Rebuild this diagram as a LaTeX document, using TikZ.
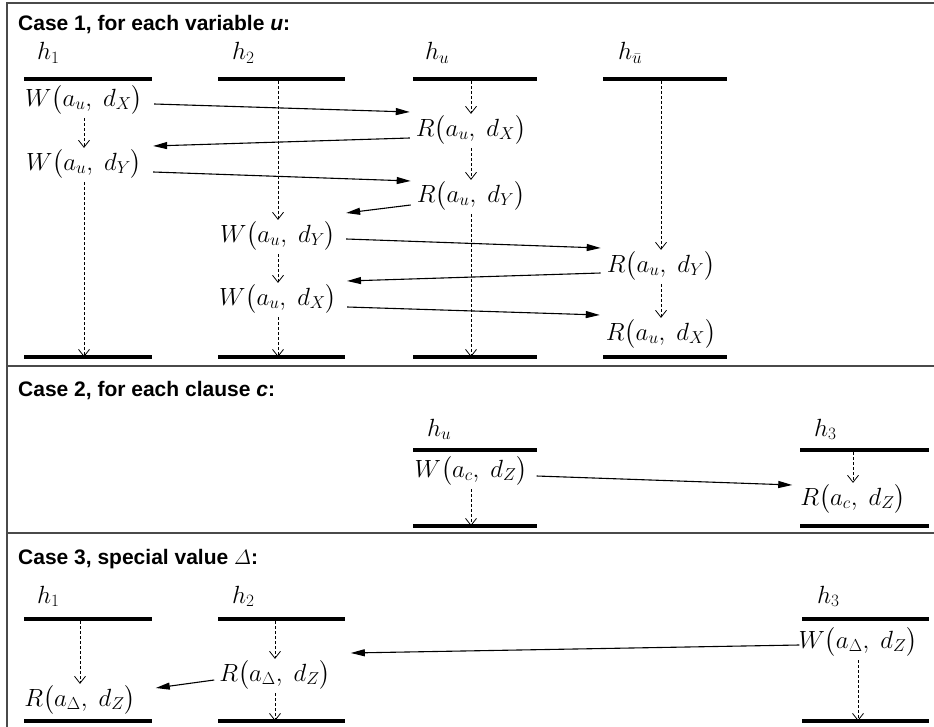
\documentclass[tikz,border=0pt]{standalone}
\usepackage{amsmath,amssymb}
\usepackage{fontspec}
\setsansfont{Liberation Sans}
\usepackage{tikz}
\usetikzlibrary{arrows.meta,positioning,calc}
\definecolor{frameline}{HTML}{4A4A4A}

\begin{document}
\begin{tikzpicture}[x=1pt, y=-1pt,
  lane/.style={line width=3.4pt},
  sepline/.style={frameline, line width=1.8pt},
  op/.style={font=\fontsize{24}{26}\selectfont, inner sep=1pt},
  tag/.style={font=\fontsize{23}{25}\selectfont, anchor=base west, inner sep=0pt},
  casetitle/.style={font=\sffamily\bfseries\fontsize{21}{24}\selectfont, anchor=base west, inner sep=0pt},
  flow/.style={dash pattern=on 3pt off 2pt, line width=0.8pt,
    -{Straight Barb[length=7pt,width=11pt]}, shorten <=2pt},
  msg/.style={line width=1.1pt, -{Triangle[length=14pt,width=7pt]}}]

\useasboundingbox (0,0) rectangle (934,727);

% ---------- frame
\draw[sepline] (7,727) -- (7,3) -- (934,3);
\draw[sepline] (7,366) -- (934,366);
\draw[sepline] (7,533) -- (934,533);

% ---------- case 1
\node[casetitle] (c1) at (18,31) {Case 1, for each variable \textit{u}:};
\node[tag] (l1) at (37,60)  {$h_1$};
\node[tag] (l2) at (232,60) {$h_2$};
\node[tag] (l3) at (425,60) {$h_u$};
\node[tag] (l4) at (618,60) {$h_{\bar u}$};
\foreach \a/\b in {24/152, 218/345, 413/537, 603/727}{
  \draw[lane] (\a,79) -- (\b,79);
  \draw[lane] (\a,357) -- (\b,357); }
\coordinate (b1) at (84,357);
\coordinate (t2) at (278,79);  \coordinate (b2) at (278,357);
\coordinate (t3) at (471,79);  \coordinate (b3) at (471,357);
\coordinate (t4) at (661,79);

\node[op] (w1x) at (84,100)  {$W\bigl(a_u,\;d_X\bigr)$};
\node[op] (w1y) at (84,164)  {$W\bigl(a_u,\;d_Y\bigr)$};
\node[op] (w2y) at (278,236) {$W\bigl(a_u,\;d_Y\bigr)$};
\node[op] (w2x) at (278,299) {$W\bigl(a_u,\;d_X\bigr)$};
\node[op] (r3x) at (471,130) {$R\bigl(a_u,\;d_X\bigr)$};
\node[op] (r3y) at (471,196) {$R\bigl(a_u,\;d_Y\bigr)$};
\node[op] (r4y) at (661,266) {$R\bigl(a_u,\;d_Y\bigr)$};
\node[op] (r4x) at (661,334) {$R\bigl(a_u,\;d_X\bigr)$};

\draw[flow] (w1x) -- (w1y);
\draw[flow] (w1y) -- (b1);
\draw[flow] (t2) -- (w2y);
\draw[flow] (w2y) -- (w2x);
\draw[flow] (w2x) -- (b2);
\draw[flow] (t3) -- (r3x);
\draw[flow] (r3x) -- (r3y);
\draw[flow] (r3y) -- (b3);
\draw[flow] (t4) -- (r4y);
\draw[flow] (r4y) -- (r4x);

\draw[msg] ([shift={(10,4)}]w1x.east) -- ([shift={(-5,-18)}]r3x.west);
\draw[msg] ([shift={(-5,8)}]r3x.west) -- ([shift={(10,-18)}]w1y.east);
\draw[msg] ([shift={(10,8)}]w1y.east) -- ([shift={(-5,-15)}]r3y.west);
\draw[msg] ([shift={(-5,9)}]r3y.west) -- ([shift={(9,-23)}]w2y.east);
\draw[msg] ([shift={(9,3)}]w2y.east) -- ([shift={(-5,-18)}]r4y.west);
\draw[msg] ([shift={(-5,7)}]r4y.west) -- ([shift={(9,-18)}]w2x.east);
\draw[msg] ([shift={(9,8)}]w2x.east) -- ([shift={(-5,-19)}]r4x.west);

% ---------- case 2
\node[casetitle] (c2) at (18,396) {Case 2, for each clause \textit{c}:};
\node[tag] (l5) at (427,436) {$h_u$};
\node[tag] (l6) at (814,436) {$h_3$};
\foreach \a/\b in {413/537, 800/929}{
  \draw[lane] (\a,450) -- (\b,450);
  \draw[lane] (\a,526) -- (\b,526); }
\coordinate (b5) at (471,526);
\coordinate (t6) at (853,450);

\node[op] (wc) at (471,471) {$W\bigl(a_c,\;d_Z\bigr)$};
\node[op] (rc) at (853,499) {$R\bigl(a_c,\;d_Z\bigr)$};
\draw[flow] (wc) -- (b5);
\draw[flow] (t6) -- (rc);
\draw[msg] ([shift={(8,5)}]wc.east) -- ([shift={(-7,-14)}]rc.west);

% ---------- case 3
\node[casetitle] (c3) at (18,564) {Case 3, special value $\varDelta$:};
\node[tag] (l7) at (37,603)  {$h_1$};
\node[tag] (l8) at (232,603) {$h_2$};
\node[tag] (l9) at (817,603) {$h_3$};
\foreach \a/\b in {24/152, 218/345, 802/929}{
  \draw[lane] (\a,619) -- (\b,619);
  \draw[lane] (\a,721) -- (\b,721); }
\coordinate (t7) at (80,619);
\coordinate (t8) at (275,619); \coordinate (b8) at (275,721);
\coordinate (b9) at (858,721);

\node[op] (rd1) at (80,700)  {$R\bigl(a_\Delta,\;d_Z\bigr)$};
\node[op] (rd2) at (275,675) {$R\bigl(a_\Delta,\;d_Z\bigr)$};
\node[op] (wd3) at (858,642) {$W\bigl(a_\Delta,\;d_Z\bigr)$};
\draw[flow] (t7) -- (rd1);
\draw[flow] (t8) -- (rd2);
\draw[flow] (rd2) -- (b8);
\draw[flow] (wd3) -- (b9);
\draw[msg] ([shift={(2,3)}]wd3.west) -- ([shift={(19,-22)}]rd2.east);
\draw[msg] ([shift={(-4,5)}]rd2.west) -- ([shift={(19,-12)}]rd1.east);

\end{tikzpicture}
\end{document}
